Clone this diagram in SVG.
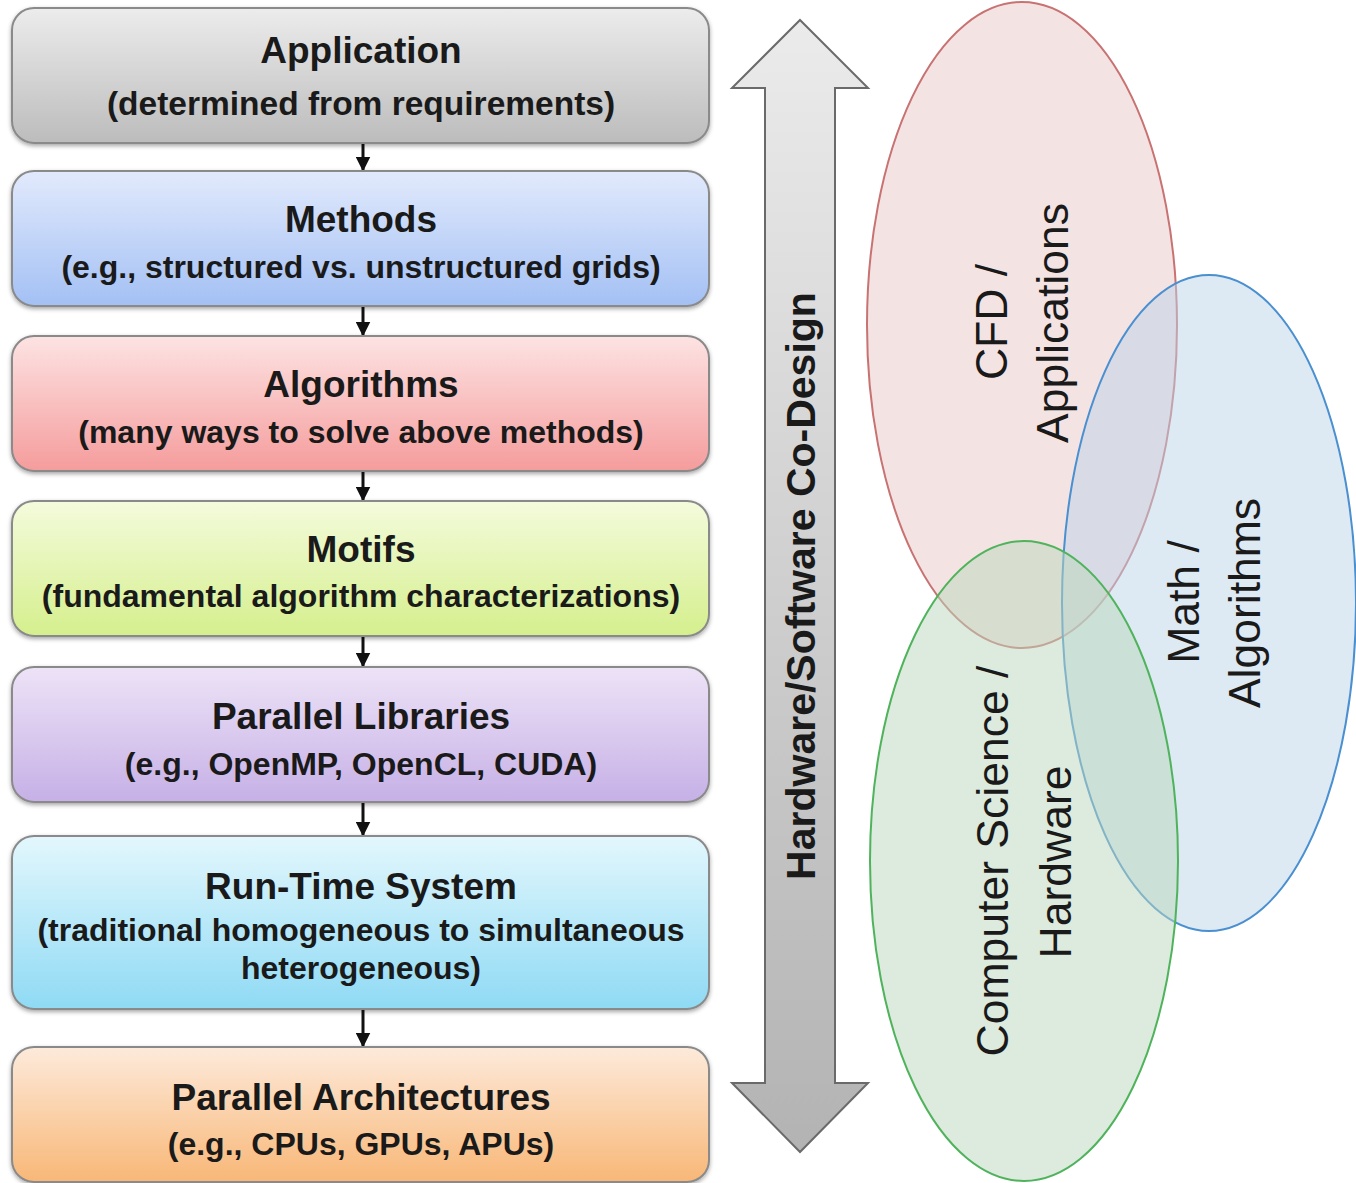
<svg xmlns="http://www.w3.org/2000/svg" width="1356" height="1183" viewBox="0 0 1356 1183">
<defs>
<linearGradient id="gGray" x1="0" y1="0" x2="0" y2="1"><stop offset="0" stop-color="#ececec"/><stop offset="1" stop-color="#bcbcbc"/></linearGradient>
<linearGradient id="gBlue" x1="0" y1="0" x2="0" y2="1"><stop offset="0" stop-color="#e2eafc"/><stop offset="1" stop-color="#a3c0f4"/></linearGradient>
<linearGradient id="gRed" x1="0" y1="0" x2="0" y2="1"><stop offset="0" stop-color="#fde3e3"/><stop offset="1" stop-color="#f59c9c"/></linearGradient>
<linearGradient id="gGreen" x1="0" y1="0" x2="0" y2="1"><stop offset="0" stop-color="#f4fbdc"/><stop offset="1" stop-color="#d5ef8d"/></linearGradient>
<linearGradient id="gPurple" x1="0" y1="0" x2="0" y2="1"><stop offset="0" stop-color="#ede3f7"/><stop offset="1" stop-color="#c6b0e6"/></linearGradient>
<linearGradient id="gCyan" x1="0" y1="0" x2="0" y2="1"><stop offset="0" stop-color="#e3f7fd"/><stop offset="1" stop-color="#8fdaf4"/></linearGradient>
<linearGradient id="gOrange" x1="0" y1="0" x2="0" y2="1"><stop offset="0" stop-color="#fdeadb"/><stop offset="1" stop-color="#f8b777"/></linearGradient>
<linearGradient id="gArrow" x1="0" y1="0" x2="0" y2="1"><stop offset="0" stop-color="#ebebeb"/><stop offset="1" stop-color="#b3b3b3"/></linearGradient>
<filter id="shadow" x="-5%" y="-10%" width="110%" height="130%"><feDropShadow dx="0" dy="2" stdDeviation="2" flood-color="#000" flood-opacity="0.35"/></filter>
<marker id="ah" viewBox="0 0 10 10" refX="9" refY="5" markerWidth="5" markerHeight="5" orient="auto"><path d="M0,0 L10,5 L0,10 Z" fill="#111"/></marker>
</defs>
<style>
.box{stroke:#8a8a8a;stroke-width:2;filter:url(#shadow)}
.t{font-family:"Liberation Sans",Arial,sans-serif;font-weight:bold;fill:#1a1a1a;text-anchor:middle}
.h{font-size:37px}
.s{font-size:32px}
.el{font-family:"Liberation Sans",Arial,sans-serif;font-size:44.5px;fill:#1a1a1a;text-anchor:middle}
.conn{stroke:#111;stroke-width:3;fill:none;marker-end:url(#ah)}
</style>
<rect width="1356" height="1183" fill="#ffffff"/>

<g id="ellipses">
<g id="cfd"><ellipse cx="1022" cy="325" rx="155" ry="323" fill="#e9c7c7" fill-opacity="0.5" stroke="#c87272" stroke-width="2"/></g>
<g id="math"><ellipse cx="1209" cy="603" rx="147" ry="328" fill="#bbd3e7" fill-opacity="0.5" stroke="#4a8fd0" stroke-width="2"/></g>
<g id="cs"><ellipse cx="1024" cy="861" rx="154" ry="320" fill="#b9d7bb" fill-opacity="0.5" stroke="#4fb35c" stroke-width="2"/></g>
<text class="el" transform="translate(1007,322) rotate(-90)">CFD /</text>
<text class="el" transform="translate(1068,323) rotate(-90)">Applications</text>
<text class="el" transform="translate(1199,602) rotate(-90)">Math /</text>
<text class="el" transform="translate(1260,603) rotate(-90)">Algorithms</text>
<text class="el" transform="translate(1008,861) rotate(-90)">Computer Science /</text>
<text class="el" transform="translate(1071,862) rotate(-90)">Hardware</text>
</g>

<g id="codesign">
<polygon points="800,20 868,88 835,88 835,1083 868,1083 800,1152 732,1083 765,1083 765,88 732,88" fill="url(#gArrow)" stroke="#6a6a6a" stroke-width="2" stroke-linejoin="miter"/>
<text class="t" style="font-size:41px" transform="translate(815,586) rotate(-90)">Hardware/Software Co-Design</text>
</g>

<g id="connectors">
<line class="conn" x1="363" y1="143" x2="363" y2="170"/>
<line class="conn" x1="363" y1="307" x2="363" y2="335"/>
<line class="conn" x1="363" y1="472" x2="363" y2="500"/>
<line class="conn" x1="363" y1="637" x2="363" y2="666"/>
<line class="conn" x1="363" y1="803" x2="363" y2="835"/>
<line class="conn" x1="363" y1="1010" x2="363" y2="1046"/>
</g>

<g id="application"><rect class="box" x="12" y="8" width="697" height="135" rx="22" fill="url(#gGray)"/>
<text class="t h" x="361" y="63">Application</text><text class="t s" style="font-size:33.5px" x="361" y="115">(determined from requirements)</text></g>
<g id="methods"><rect class="box" x="12" y="171" width="697" height="135" rx="22" fill="url(#gBlue)"/>
<text class="t h" x="361" y="232">Methods</text><text class="t s" x="361" y="278">(e.g., structured vs. unstructured grids)</text></g>
<g id="algorithms"><rect class="box" x="12" y="336" width="697" height="135" rx="22" fill="url(#gRed)"/>
<text class="t h" x="361" y="397">Algorithms</text><text class="t s" x="361" y="443">(many ways to solve above methods)</text></g>
<g id="motifs"><rect class="box" x="12" y="501" width="697" height="135" rx="22" fill="url(#gGreen)"/>
<text class="t h" x="361" y="562">Motifs</text><text class="t s" x="361" y="607">(fundamental algorithm characterizations)</text></g>
<g id="libraries"><rect class="box" x="12" y="667" width="697" height="135" rx="22" fill="url(#gPurple)"/>
<text class="t h" x="361" y="729">Parallel Libraries</text><text class="t s" x="361" y="775">(e.g., OpenMP, OpenCL, CUDA)</text></g>
<g id="runtime"><rect class="box" x="12" y="836" width="697" height="173" rx="22" fill="url(#gCyan)"/>
<text class="t h" x="361" y="899">Run-Time System</text><text class="t s" x="361" y="941">(traditional homogeneous to simultaneous</text><text class="t s" x="361" y="979">heterogeneous)</text></g>
<g id="architectures"><rect class="box" x="12" y="1047" width="697" height="135" rx="22" fill="url(#gOrange)"/>
<text class="t h" x="361" y="1110">Parallel Architectures</text><text class="t s" x="361" y="1155">(e.g., CPUs, GPUs, APUs)</text></g>
</svg>
